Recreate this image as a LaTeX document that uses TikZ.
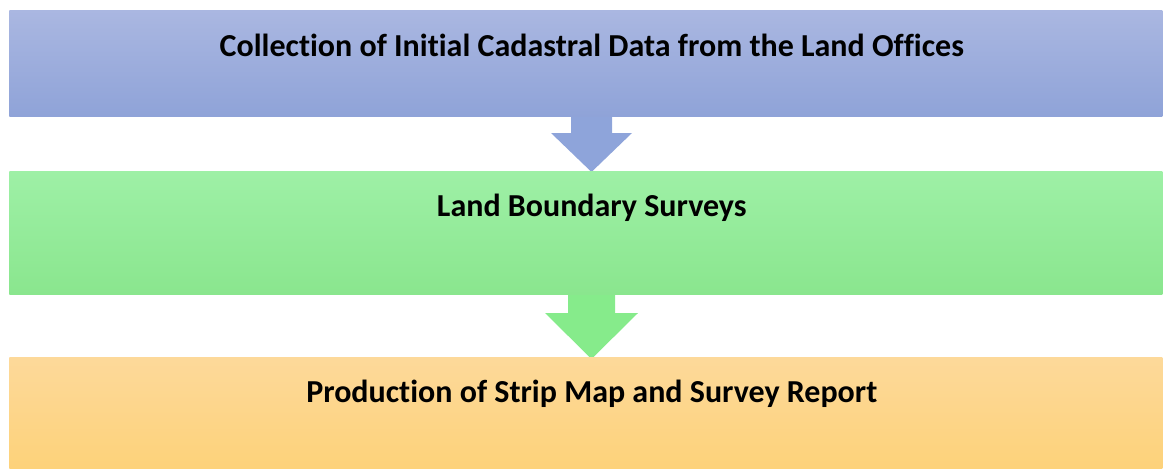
\documentclass[tikz,border=0pt]{standalone}
\usepackage{fontspec}
\setmainfont[Ligatures=NoCommon]{Carlito}
\usetikzlibrary{calc}

\definecolor{collectTop}{HTML}{AAB7E1}
\definecolor{collectBot}{HTML}{8FA3D8}
\definecolor{surveyTop}{HTML}{9EF0A6}
\definecolor{surveyBot}{HTML}{8AE68E}
\definecolor{reportTop}{HTML}{FDD99A}
\definecolor{reportBot}{HTML}{FDD27A}
\definecolor{arrowBlue}{HTML}{8EA4DA}
\definecolor{arrowGreen}{HTML}{86EB8B}

\tikzset{
  stage/.style={rectangle, anchor=north west, inner sep=0pt,
    minimum width=864.75pt, shading=axis},
  stagetext/.style={anchor=base, inner sep=0pt,
    font=\fontsize{24}{29}\selectfont\bfseries},
}

\begin{document}
\begin{tikzpicture}[x=0.75pt,y=-0.75pt]
\useasboundingbox (0,0) rectangle (1163,468);

% the arrows sit behind the boxes
\coordinate (a1top) at (591.5,114);
\coordinate (a1tip) at (591.5,172);
\fill[arrowBlue] ($(a1top)+(-20.5,0)$) -- ($(a1top)+(20.5,0)$) -- (612,133)
  -- (632,133) -- (a1tip) -- (551,133) -- (571,133) -- cycle;
\coordinate (a2top) at (591.5,292);
\coordinate (a2tip) at (591.5,359);
\fill[arrowGreen] ($(a2top)+(-23.5,0)$) -- ($(a2top)+(23.5,0)$) -- (615,313)
  -- (638,313) -- (a2tip) -- (545,313) -- (568,313) -- cycle;

% the three stages
\node[stage, minimum height=79.5pt, top color=collectTop, bottom color=collectBot]
  (collect) at (9,10) {};
\node[stage, minimum height=92.25pt, top color=surveyTop, bottom color=surveyBot]
  (survey) at (9,171) {};
\node[stage, minimum height=83.25pt, top color=reportTop, bottom color=reportBot]
  (report) at (9,357) {};

% the labels
\node[stagetext] (collectlbl) at ($(collect.north)+(6,46)$)
  {Collection of Initial Cadastral Data from the Land Offices};
\node[stagetext] (surveylbl) at ($(survey.north)+(6,45)$)
  {Land Boundary Surveys};
\node[stagetext] (reportlbl) at ($(report.north)+(6,45)$)
  {Production of Strip Map and Survey Report};
\end{tikzpicture}
\end{document}
